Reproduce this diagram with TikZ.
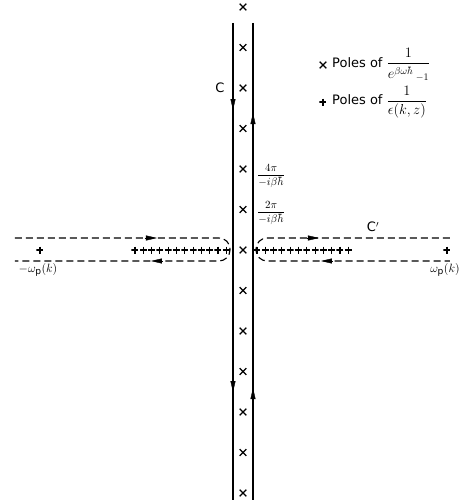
\documentclass[tikz,border=0pt]{standalone}
\usepackage{amsmath}
\usepackage{fontspec}
\setmainfont{DejaVu Sans}
\usetikzlibrary{shapes.misc,arrows.meta}
\tikzset{
  pole/.style={cross out, draw, line width=1.2pt, minimum size=5.5pt, inner sep=0pt},
  zero/.style={minimum size=7pt, inner sep=0pt,
    path picture={\draw [line width=1.1pt] (path picture bounding box.north) -- (path picture bounding box.south)
      (path picture bounding box.west) -- (path picture bounding box.east);}},
  contour/.style={line width=1.1pt, dash pattern=on 7pt off 4pt, rounded corners=11pt},
  axisline/.style={line width=1.1pt},
  tip/.style={-{Triangle[length=11pt,width=5pt]}},
  lab/.style={font=\fontsize{13}{15}\selectfont},
  frac/.style={font=\fontsize{11}{13}\selectfont, anchor=west, inner sep=1pt},
  legend/.style={font=\fontsize{13}{15}\selectfont, anchor=west, inner sep=0pt}
}
\begin{document}
\begin{tikzpicture}[x=1pt, y=1pt]
  \useasboundingbox (-243,-254) rectangle (231,250);
  \draw [axisline] (-10,227) -- (-10,-250);
  \draw [axisline] (10,227) -- (10,-250);
  \draw [tip] (-10,154) -- (-10,140);
  \draw [tip] (-10,-128) -- (-10,-142);
  \draw [tip] (10,123) -- (10,137);
  \draw [tip] (10,-152) -- (10,-138);
  \foreach \k in {-6,...,6}
    \node [pole] (p\k) at (0,40.5*\k) {};
  \draw [contour] (-228,12) -- (-13,12) -- (-13,-11) -- (-228,-11);
  \draw [contour] (207,12) -- (13,12) -- (13,-11) -- (207,-11);
  \draw [tip] (-98,12) -- (-86,12);
  \draw [tip] (-80,-11) -- (-92,-11);
  \draw [tip] (64,12) -- (76,12);
  \draw [tip] (90,-11) -- (78,-11);
  \foreach \i in {0,...,11} {
    \node [zero] (l\i) at (-108+8.3*\i,0) {};
    \node [zero] (r\i) at (14+8.3*\i,0) {};
  }
  \node [zero] (lw) at (-203,0) {};
  \node [zero] (rw) at (204,0) {};
  \node [lab] (c) at (-23,162) {C};
  \node [lab] (cp) at (130,23) {C$'$};
  \node [lab] (wl) at (-205,-20) {$-\omega_{\mathrm{p}}(k)$};
  \node [lab] (wr) at (202,-20) {$\omega_{\mathrm{p}}(k)$};
  \node [frac] (f4) at (13,74) {$\dfrac{4\pi}{-i\beta\hbar}$};
  \node [frac] (f2) at (13,37) {$\dfrac{2\pi}{-i\beta\hbar}$};
  \node [pole] (kx) at (80,185) {};
  \node [zero] (kp) at (80,148) {};
  \node [legend] (tx) at (89,185) {Poles of {\fontsize{14}{16}\selectfont$\dfrac{1}{\rule{0pt}{13pt}e^{\beta\omega\hbar}\,{}_{-1}}$}};
  \node [legend] (tp) at (89,148) {Poles of {\fontsize{14}{16}\selectfont$\dfrac{1}{\epsilon(k,z)}$}};
\end{tikzpicture}
\end{document}
